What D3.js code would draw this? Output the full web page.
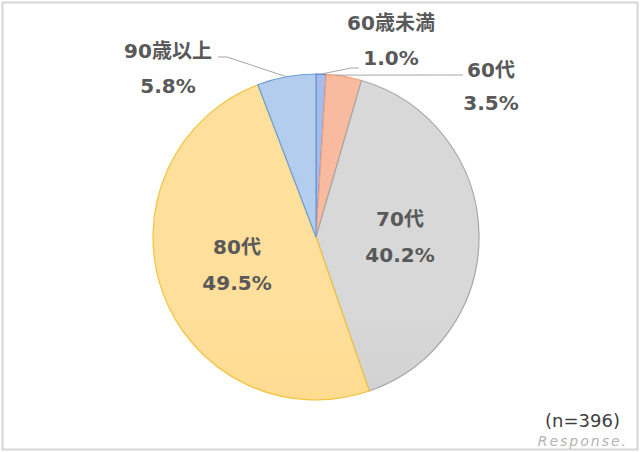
<!DOCTYPE html>
<html>
<head>
<meta charset="utf-8">
<script src="https://cdn.jsdelivr.net/npm/d3@7"></script>
<style>
  body { margin: 0; background: #fff; }
  text { font-family: "DejaVu Sans", "Noto Sans CJK JP", sans-serif; }
</style>
</head>
<body>
<div id="chart"></div>
<script>
// data
const categories = ["60歳未満", "60代", "70代", "80代", "90歳以上"];
const shares = [1.0, 3.5, 40.2, 49.5, 5.8];
const sampleNote = "(n=396)";

var width = 640, height = 452,
  cx = 316, cy = 237, radius = 163;

// top / bottom colours of each slice gradient, and its edge
const fills = [
  ["#a6bbe9", "#8ea7dc"],
  ["#f9bb9f", "#f3a683"],
  ["#d8d8d8", "#c0c0c0"],
  ["#ffdf9c", "#ffd26c"],
  ["#b3cdee", "#9fbee8"]
];
const edges = ["#4f7cc9", "#f0a27e", "#a6a6a6", "#f2c340", "#6c9fd6"];

// label centres: x, y of name, y of percent; leader points for outside labels
const labelLayout = [
  {x: 391, y1: 23, y2: 58, leader: [[359, 68], [351, 68]], at: 0.5},
  {x: 491, y1: 70, y2: 103, leader: [[463, 75]], at: 0.25},
  {x: 400, y1: 219, y2: 255},
  {x: 237, y1: 247, y2: 283},
  {x: 168, y1: 51, y2: 86, leader: [[218, 57], [227, 57]], at: 0.5}
];

var svg = d3.select("#chart").append("svg")
  .attr("width", width)
  .attr("height", height);

// frame
svg.append("rect")
  .attr("x", 2.5).attr("y", 2.5)
  .attr("width", width - 5).attr("height", height - 5)
  .attr("fill", "#fff")
  .attr("stroke", "#d6d6d6")
  .attr("stroke-width", 2);

var defs = svg.append("defs");
fills.forEach(function(f, i) {
  var g = defs.append("linearGradient")
    .attr("id", "grad" + i)
    .attr("gradientUnits", "userSpaceOnUse")
    .attr("x1", 0).attr("y1", cy - radius)
    .attr("x2", 0).attr("y2", cy + radius);
  g.append("stop").attr("offset", "0%").attr("stop-color", f[0]);
  g.append("stop").attr("offset", "100%").attr("stop-color", f[1]);
});

var pie = d3.pie().sort(null).value(function(d) { return d; });
var arcs = pie(shares);
var arc = d3.arc().innerRadius(0).outerRadius(radius);

var g = svg.append("g")
  .attr("transform", "translate(" + cx + "," + cy + ")");

g.selectAll("path.slice")
  .data(arcs)
  .enter()
  .append("path")
    .attr("class", "slice")
    .attr("d", arc)
    .attr("fill", function(d, i) { return "url(#grad" + i + ")"; })
    .attr("stroke", function(d, i) { return edges[i]; })
    .attr("stroke-width", 1.2)
    .attr("stroke-linejoin", "round");

// point on the rim at a fraction through a slice
function rim(d, t) {
  var a = d.startAngle + (d.endAngle - d.startAngle) * t;
  return [cx + radius * Math.sin(a), cy - radius * Math.cos(a)];
}

// leader lines
arcs.forEach(function(d, i) {
  var L = labelLayout[i];
  if (!L.leader) return;
  var pts = L.leader.concat([rim(d, L.at)]);
  svg.append("path")
    .attr("d", d3.line()(pts))
    .attr("fill", "none")
    .attr("stroke", "#a6a6a6")
    .attr("stroke-width", 1);
});

// data labels
var labels = svg.selectAll("g.label")
  .data(arcs)
  .enter()
  .append("g")
    .attr("class", "label");

labels.append("text")
  .attr("x", function(d, i) { return labelLayout[i].x; })
  .attr("y", function(d, i) { return labelLayout[i].y1; })
  .attr("text-anchor", "middle")
  .attr("dominant-baseline", "central")
  .style("font-size", "20px")
  .style("font-weight", "bold")
  .style("fill", "#595959")
  .text(function(d, i) { return categories[i]; });

labels.append("text")
  .attr("x", function(d, i) { return labelLayout[i].x; })
  .attr("y", function(d, i) { return labelLayout[i].y2; })
  .attr("text-anchor", "middle")
  .attr("dominant-baseline", "central")
  .style("font-size", "20px")
  .style("font-weight", "bold")
  .style("fill", "#595959")
  .text(function(d) { return d3.format(".1f")(d.data) + "%"; });

// sample size
svg.append("text")
  .attr("x", 620)
  .attr("y", 420)
  .attr("text-anchor", "end")
  .attr("dominant-baseline", "central")
  .style("font-size", "18px")
  .style("fill", "#404040")
  .text(sampleNote);

// watermark
svg.append("text")
  .attr("x", 628)
  .attr("y", 441)
  .attr("text-anchor", "end")
  .attr("dominant-baseline", "central")
  .style("font-size", "14px")
  .style("letter-spacing", "2px")
  .style("font-style", "italic")
  .style("fill", "#b4b4b4")
  .text("Response.");
</script>
</body>
</html>
